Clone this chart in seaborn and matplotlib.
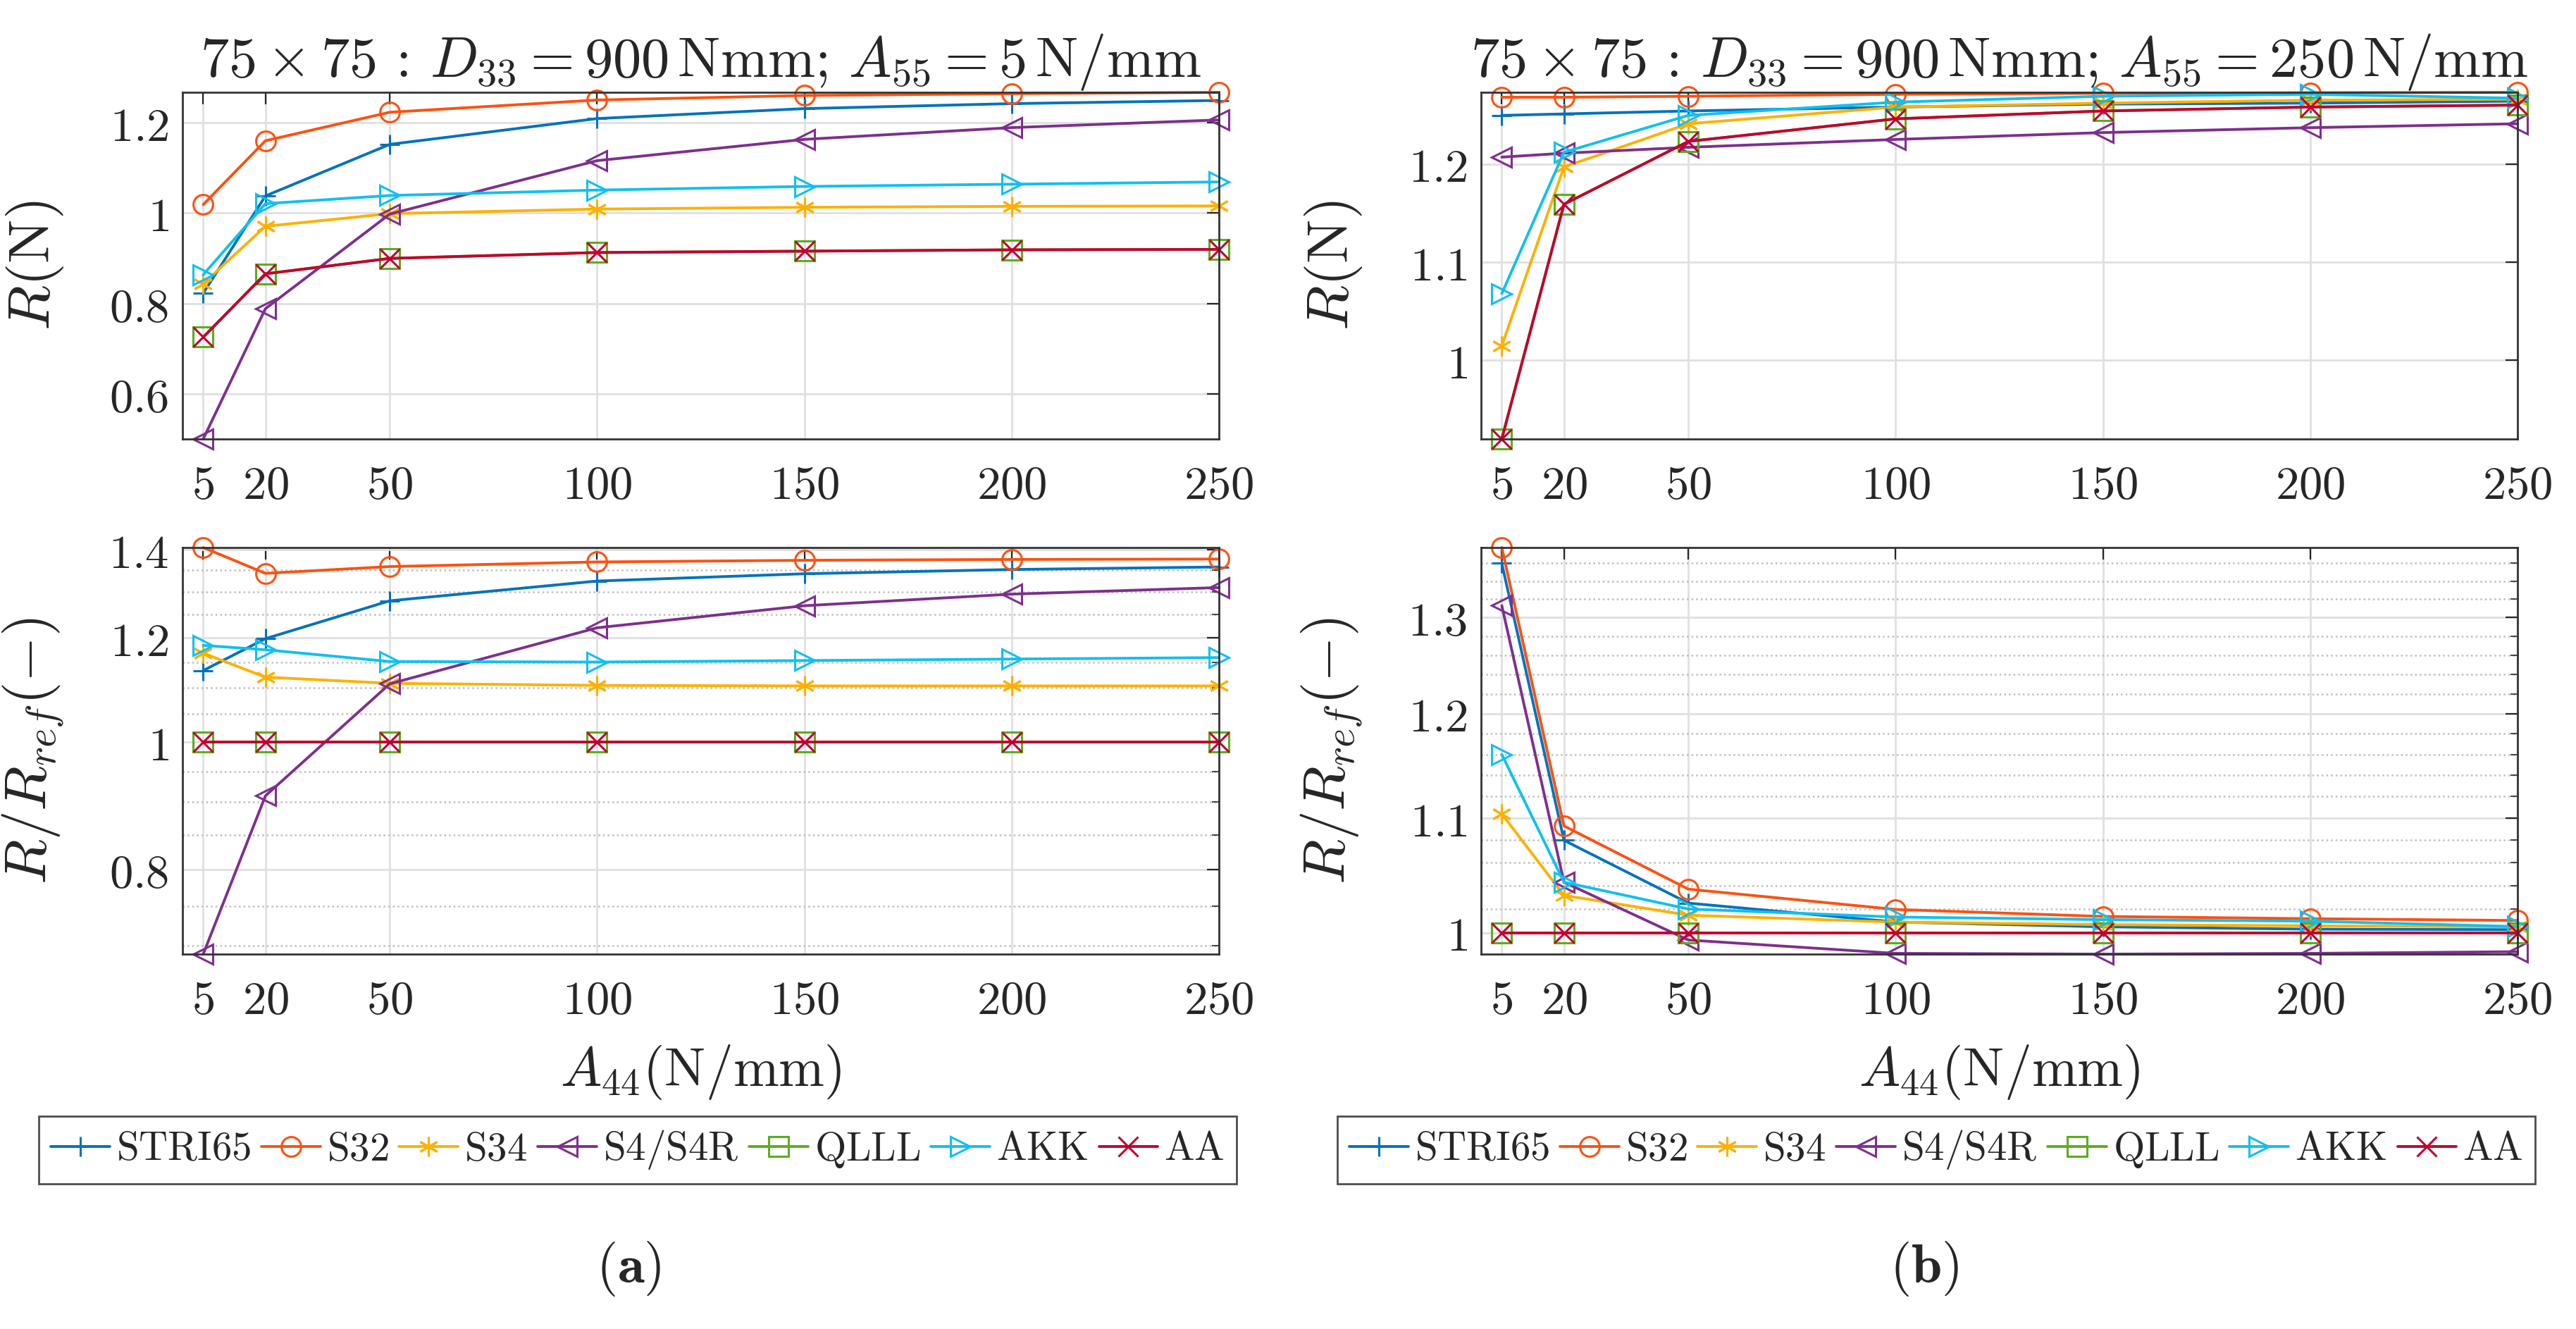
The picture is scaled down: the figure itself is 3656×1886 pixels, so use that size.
import matplotlib
matplotlib.use("Agg")
import matplotlib.pyplot as plt
import numpy as np
import pandas as pd
import seaborn as sns
from matplotlib.ticker import FixedLocator, FixedFormatter, NullFormatter

# --- data ---
a44 = [5, 20, 50, 100, 150, 200, 250]
methods = ["STRI65", "S32", "S34", "S4/S4R", "QLLL", "AKK", "AA"]

# R (N), A55 = 5 N/mm
r_a = [
    [0.823, 1.038, 1.152, 1.209, 1.231, 1.242, 1.249],
    [1.019, 1.160, 1.223, 1.250, 1.260, 1.264, 1.267],
    [0.844, 0.971, 0.999, 1.009, 1.013, 1.015, 1.016],
    [0.501, 0.789, 0.998, 1.116, 1.163, 1.189, 1.206],
    [0.726, 0.866, 0.900, 0.913, 0.916, 0.919, 0.920],
    [0.864, 1.021, 1.039, 1.051, 1.059, 1.064, 1.069],
    [0.726, 0.866, 0.900, 0.913, 0.916, 0.919, 0.920],
]
# R (N), A55 = 250 N/mm
r_b = [
    [1.2495, 1.251, 1.254, 1.258, 1.261, 1.262, 1.264],
    [1.268, 1.268, 1.269, 1.271, 1.272, 1.2726, 1.273],
    [1.015, 1.197, 1.241, 1.258, 1.262, 1.265, 1.266],
    [1.207, 1.211, 1.217, 1.225, 1.232, 1.237, 1.241],
    [0.920, 1.159, 1.223, 1.246, 1.254, 1.258, 1.260],
    [1.068, 1.212, 1.2495, 1.263, 1.269, 1.271, 1.267],
    [0.920, 1.159, 1.223, 1.246, 1.254, 1.258, 1.260],
]
# R / R_ref
ratio_a = [
    [1.133, 1.198, 1.280, 1.325, 1.342, 1.352, 1.358],
    [1.405, 1.343, 1.359, 1.370, 1.374, 1.376, 1.377],
    [1.168, 1.120, 1.108, 1.104, 1.103, 1.103, 1.103],
    [0.690, 0.910, 1.107, 1.221, 1.269, 1.295, 1.310],
    [1.0, 1.0, 1.0, 1.0, 1.0, 1.0, 1.0],
    [1.184, 1.175, 1.151, 1.150, 1.153, 1.156, 1.159],
    [1.0, 1.0, 1.0, 1.0, 1.0, 1.0, 1.0],
]
ratio_b = [
    [1.360, 1.080, 1.025, 1.009, 1.005, 1.003, 1.0026],
    [1.378, 1.093, 1.037, 1.0196, 1.0137, 1.0118, 1.0103],
    [1.104, 1.0316, 1.0148, 1.0089, 1.0068, 1.0058, 1.005],
    [1.313, 1.043, 0.994, 0.983, 0.9824, 0.983, 0.9844],
    [1.0, 1.0, 1.0, 1.0, 1.0, 1.0, 1.0],
    [1.160, 1.043, 1.020, 1.0132, 1.011, 1.0097, 1.0052],
    [1.0, 1.0, 1.0, 1.0, 1.0, 1.0, 1.0],
]

colors = ["#0072BD", "#FF5010", "#FFB000", "#7E2F8E", "#5AAE1E", "#10C0F0", "#C2002F"]
markers = ["+", "o", (6, 2, 0), "<", "s", ">", "x"]

sns.set_style("white")
plt.rcParams["mathtext.fontset"] = "cm"
plt.rcParams["font.family"] = ["DejaVu Serif"]


def long_df(values):
    rows = []
    for m, vals in zip(methods, values):
        for x, v in zip(a44, vals):
            rows.append({"A44": x, "value": v, "method": m})
    return pd.DataFrame(rows)


def draw(ax, values, log=False):
    df = long_df(values)
    for m, c, mk in zip(methods, colors, markers):
        sub = df[df["method"] == m]
        sns.lineplot(data=sub, x="A44", y="value", ax=ax, color=c, marker=mk,
                     markersize=10, markerfacecolor="none", markeredgecolor=c,
                     markeredgewidth=1.1, linewidth=1.4, label=r"$\mathrm{%s}$" % m,
                     legend=False, errorbar=None, clip_on=False)
    ax.set_xlim(0, 250)
    if log:
        ax.set_yscale("log")
    ax.set_ylim(df["value"].min(), df["value"].max())
    ax.set_xticks(a44)
    ax.set_xticklabels([r"$%d$" % v for v in a44])
    ax.tick_params(which="both", direction="in", top=True, right=True,
                   labelsize=24, color="0.15")
    ax.tick_params(axis="x", which="major", pad=12, length=6)
    ax.tick_params(axis="y", which="major", pad=7, length=6)
    ax.tick_params(which="minor", length=3.5)
    ax.grid(True, which="major", color="0.88", linewidth=1.0)
    for s in ax.spines.values():
        s.set_color("0.2")
        s.set_linewidth(1.0)
    ax.set_xlabel("")


def set_yticks(ax, major, minor=None):
    ax.yaxis.set_major_locator(FixedLocator(major))
    ax.yaxis.set_major_formatter(FixedFormatter([r"$%g$" % v for v in major]))
    if minor is not None:
        ax.yaxis.set_minor_locator(FixedLocator(minor))
        ax.yaxis.set_minor_formatter(NullFormatter())
        ax.grid(True, which="minor", axis="y", color="0.75", linestyle=":", linewidth=0.9)
    else:
        ax.yaxis.set_minor_locator(FixedLocator([]))


fig = plt.figure(figsize=(18.28, 9.43), dpi=200)
W, H = 3656, 1886
lefts = [259, 2102]
width = 1471
ax_tl = fig.add_axes([lefts[0] / W, 1 - 623 / H, width / W, 492 / H])
ax_tr = fig.add_axes([lefts[1] / W, 1 - 623 / H, width / W, 492 / H])
ax_bl = fig.add_axes([lefts[0] / W, 1 - 1354 / H, width / W, 577 / H])
ax_br = fig.add_axes([lefts[1] / W, 1 - 1354 / H, width / W, 577 / H])

draw(ax_tl, r_a)
draw(ax_tr, r_b)
draw(ax_bl, ratio_a, log=True)
draw(ax_br, ratio_b, log=True)

set_yticks(ax_tl, [0.6, 0.8, 1.0, 1.2])
set_yticks(ax_tr, [1.0, 1.1, 1.2])
set_yticks(ax_bl, [0.8, 1.0, 1.2, 1.4],
           [v for v in np.round(np.arange(0.65, 1.45, 0.05), 2) if v not in (0.8, 1.0, 1.2, 1.4)])
set_yticks(ax_br, [1.0, 1.1, 1.2, 1.3],
           [v for v in np.round(np.arange(0.98, 1.40, 0.02), 2) if v not in (1.0, 1.1, 1.2, 1.3)])

ax_tl.set_title(r"$75\times75\,:\,D_{33}=900\,\mathrm{Nmm};\,A_{55}=5\,\mathrm{N/mm}$",
                fontsize=29, pad=8)
ax_tr.set_title(r"$75\times75\,:\,D_{33}=900\,\mathrm{Nmm};\,A_{55}=250\,\mathrm{N/mm}$",
                fontsize=29, pad=8)

for ax in (ax_tl, ax_tr):
    ax.set_ylabel(r"$R(\mathrm{N})$", fontsize=30)
for ax in (ax_bl, ax_br):
    ax.set_ylabel(r"$R/R_{ref}(-)$", fontsize=30)
    ax.set_xlabel(r"$A_{44}(\mathrm{N/mm})$", fontsize=28, labelpad=10)
for ax in (ax_tl, ax_tr, ax_bl, ax_br):
    ax.yaxis.set_label_coords(-0.113, 0.5)

for ax, cx in ((ax_bl, 905), (ax_br, 2748)):
    handles, labels = ax.get_legend_handles_labels()
    leg = fig.legend(handles, labels, loc="center", bbox_to_anchor=(cx / W, 1 - 1632 / H),
                     ncol=7, fontsize=20.5, frameon=True, fancybox=False, framealpha=1,
                     edgecolor="0.3", handlelength=1.47, handletextpad=0.16,
                     columnspacing=0.26, borderpad=0.3, borderaxespad=0)
    leg.get_frame().set_linewidth(1.0)

fig.text(892 / W, 1 - 1800 / H, r"$(\mathbf{a})$", fontsize=28, ha="center", va="center")
fig.text(2731 / W, 1 - 1800 / H, r"$(\mathbf{b})$", fontsize=28, ha="center", va="center")

fig.savefig("out.png", dpi=200, facecolor="white")
